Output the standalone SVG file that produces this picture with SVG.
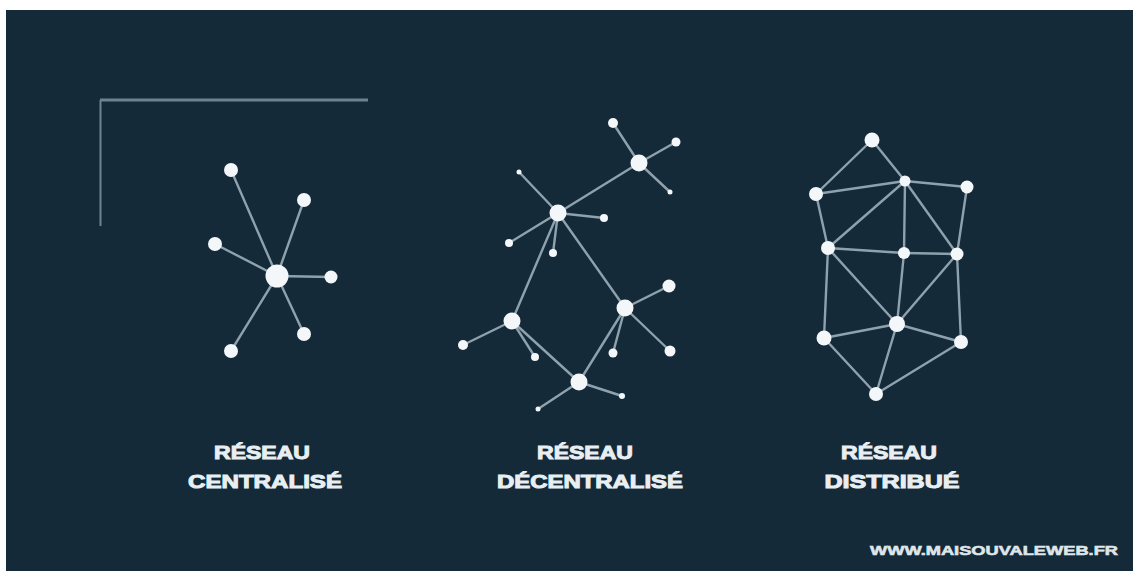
<svg xmlns="http://www.w3.org/2000/svg" width="1133" height="571" viewBox="0 0 1133 571">
<style>
.e line{stroke:#8ea2ad;stroke-width:2.4;stroke-linecap:round}
.n circle{fill:#f3f7f9}
.lbl{font-family:"Liberation Sans",Arial,sans-serif;font-weight:bold;fill:#e8eef1;stroke:#e8eef1;stroke-width:1;text-anchor:middle}
.web{font-family:"Liberation Sans",Arial,sans-serif;font-weight:bold;fill:#dfe6ea;stroke:#dfe6ea;stroke-width:0.6}
</style>
<rect x="0" y="0" width="1133" height="571" fill="#ffffff"/>
<rect x="6" y="10" width="1127" height="561" fill="#142a39"/>
<g id="bracket" fill="none" stroke="#6a8494">
<line x1="100" y1="100" x2="368" y2="100" stroke-width="3"/>
<line x1="100.5" y1="100" x2="100.5" y2="226" stroke-width="2"/>
</g>
<g id="connectors" class="e">
<line x1="277" y1="276" x2="231" y2="170"/>
<line x1="277" y1="276" x2="304" y2="200"/>
<line x1="277" y1="276" x2="215" y2="244"/>
<line x1="277" y1="276" x2="331" y2="277"/>
<line x1="277" y1="276" x2="304" y2="334"/>
<line x1="277" y1="276" x2="231" y2="351"/>
<line x1="639" y1="163" x2="613" y2="123"/>
<line x1="639" y1="163" x2="676" y2="142"/>
<line x1="639" y1="163" x2="670" y2="192"/>
<line x1="639" y1="163" x2="558" y2="213"/>
<line x1="558" y1="213" x2="519" y2="172"/>
<line x1="558" y1="213" x2="604" y2="218"/>
<line x1="558" y1="213" x2="509" y2="243"/>
<line x1="558" y1="213" x2="553" y2="253"/>
<line x1="558" y1="213" x2="512" y2="321"/>
<line x1="558" y1="213" x2="625" y2="308"/>
<line x1="625" y1="308" x2="669" y2="286"/>
<line x1="625" y1="308" x2="670" y2="351"/>
<line x1="625" y1="308" x2="613" y2="353"/>
<line x1="625" y1="308" x2="579" y2="382"/>
<line x1="512" y1="321" x2="463" y2="345"/>
<line x1="512" y1="321" x2="535" y2="357"/>
<line x1="512" y1="321" x2="579" y2="382"/>
<line x1="579" y1="382" x2="622" y2="396"/>
<line x1="579" y1="382" x2="538" y2="409"/>
<line x1="872" y1="140" x2="816" y2="194"/>
<line x1="872" y1="140" x2="905" y2="181"/>
<line x1="816" y1="194" x2="905" y2="181"/>
<line x1="905" y1="181" x2="967" y2="187"/>
<line x1="816" y1="194" x2="828" y2="248"/>
<line x1="905" y1="181" x2="828" y2="248"/>
<line x1="905" y1="181" x2="904" y2="253"/>
<line x1="905" y1="181" x2="957" y2="254"/>
<line x1="967" y1="187" x2="957" y2="254"/>
<line x1="828" y1="248" x2="904" y2="253"/>
<line x1="904" y1="253" x2="957" y2="254"/>
<line x1="828" y1="248" x2="824" y2="338"/>
<line x1="828" y1="248" x2="897" y2="324"/>
<line x1="904" y1="253" x2="897" y2="324"/>
<line x1="957" y1="254" x2="897" y2="324"/>
<line x1="957" y1="254" x2="961" y2="342"/>
<line x1="824" y1="338" x2="897" y2="324"/>
<line x1="897" y1="324" x2="961" y2="342"/>
<line x1="824" y1="338" x2="876" y2="394"/>
<line x1="897" y1="324" x2="876" y2="394"/>
<line x1="961" y1="342" x2="876" y2="394"/>
</g>
<g id="centralized" class="n">
<circle cx="277" cy="276" r="11.5"/>
<circle cx="231" cy="170" r="7"/>
<circle cx="304" cy="200" r="7"/>
<circle cx="215" cy="244" r="7"/>
<circle cx="331" cy="277" r="6.5"/>
<circle cx="304" cy="334" r="7"/>
<circle cx="231" cy="351" r="7"/>
</g>
<g id="decentralized" class="n">
<circle cx="639" cy="163" r="8.5"/>
<circle cx="613" cy="123" r="5"/>
<circle cx="676" cy="142" r="4.5"/>
<circle cx="670" cy="192" r="2.5"/>
<circle cx="558" cy="213" r="8.5"/>
<circle cx="519" cy="172" r="2.5"/>
<circle cx="604" cy="218" r="4"/>
<circle cx="509" cy="243" r="4"/>
<circle cx="553" cy="253" r="4"/>
<circle cx="625" cy="308" r="8.5"/>
<circle cx="669" cy="286" r="6.5"/>
<circle cx="670" cy="351" r="5.5"/>
<circle cx="613" cy="353" r="4.5"/>
<circle cx="512" cy="321" r="8.5"/>
<circle cx="463" cy="345" r="5"/>
<circle cx="535" cy="357" r="4"/>
<circle cx="579" cy="382" r="8.5"/>
<circle cx="622" cy="396" r="3"/>
<circle cx="538" cy="409" r="2.5"/>
</g>
<g id="distributed" class="n">
<circle cx="872" cy="140" r="7.5"/>
<circle cx="905" cy="181" r="5.5"/>
<circle cx="967" cy="187" r="6.5"/>
<circle cx="816" cy="194" r="7"/>
<circle cx="828" cy="248" r="7"/>
<circle cx="904" cy="253" r="6"/>
<circle cx="957" cy="254" r="6.5"/>
<circle cx="897" cy="324" r="8"/>
<circle cx="824" cy="338" r="7.5"/>
<circle cx="961" cy="342" r="7"/>
<circle cx="876" cy="394" r="7"/>
</g>
<g id="labels">
<text class="lbl" x="262" y="459" font-size="19" textLength="96" lengthAdjust="spacingAndGlyphs">RÉSEAU</text>
<text class="lbl" x="265" y="488" font-size="19" textLength="154" lengthAdjust="spacingAndGlyphs">CENTRALISÉ</text>
<text class="lbl" x="585" y="459" font-size="19" textLength="96" lengthAdjust="spacingAndGlyphs">RÉSEAU</text>
<text class="lbl" x="590" y="488" font-size="19" textLength="186" lengthAdjust="spacingAndGlyphs">DÉCENTRALISÉ</text>
<text class="lbl" x="889" y="459" font-size="19" textLength="96" lengthAdjust="spacingAndGlyphs">RÉSEAU</text>
<text class="lbl" x="892" y="488" font-size="19" textLength="135" lengthAdjust="spacingAndGlyphs">DISTRIBUÉ</text>
<text class="web" x="870" y="555" font-size="13" textLength="248" lengthAdjust="spacingAndGlyphs">WWW.MAISOUVALEWEB.FR</text>
</g>
</svg>
